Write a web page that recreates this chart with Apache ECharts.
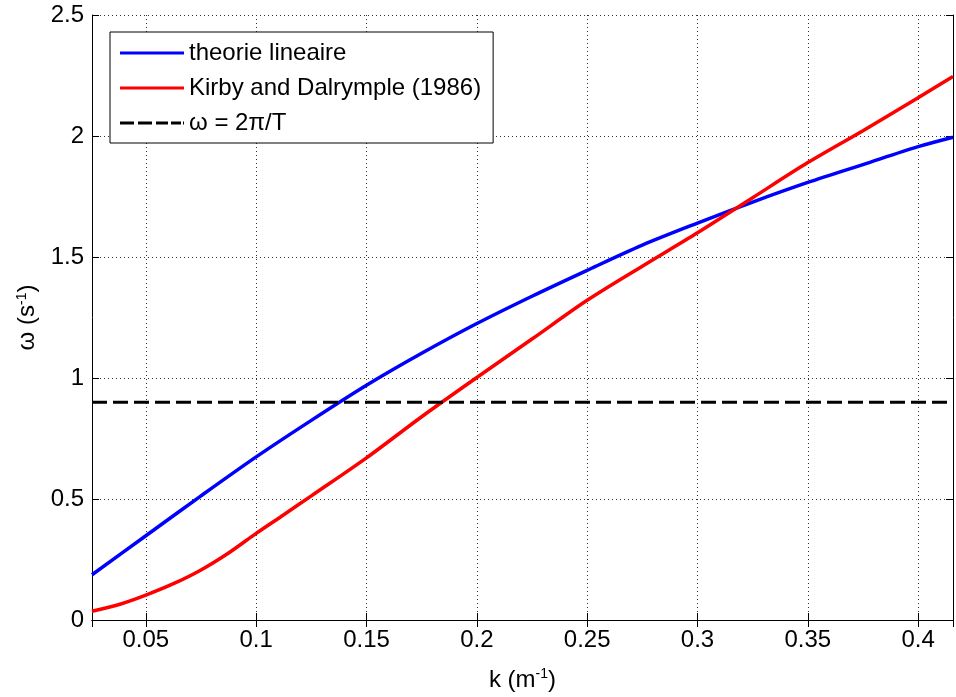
<!DOCTYPE html>
<html>
<head>
<meta charset="utf-8">
<script src="https://cdn.jsdelivr.net/npm/echarts@6/dist/echarts.min.js"></script>
<style>
html,body{margin:0;padding:0;background:#fff;overflow:hidden;}
#chart{width:956px;height:697px;}
</style>
</head>
<body>
<div id="chart"></div>
<script>
// Data
var kLinear = [0.0256, 0.05, 0.075, 0.1, 0.125, 0.15, 0.175, 0.2, 0.225, 0.25, 0.275, 0.3, 0.325, 0.35, 0.375, 0.4, 0.4158];
var omegaLinear = [0.187, 0.348, 0.513, 0.674, 0.825, 0.970, 1.102, 1.225, 1.338, 1.445, 1.549, 1.640, 1.727, 1.808, 1.882, 1.956, 1.995];
var kKirby = [0.0256, 0.0375, 0.05, 0.0625, 0.075, 0.0875, 0.1, 0.1125, 0.125, 0.15, 0.175, 0.2, 0.225, 0.25, 0.275, 0.3, 0.325, 0.35, 0.375, 0.4, 0.4158];
var omegaKirby = [0.036, 0.063, 0.103, 0.150, 0.207, 0.277, 0.358, 0.435, 0.513, 0.670, 0.840, 1.002, 1.161, 1.321, 1.462, 1.600, 1.745, 1.890, 2.022, 2.158, 2.246];
var kDash = [0.0256, 0.4158];
var omegaDash = [0.9, 0.9];
var xMin = 0.0256, xMax = 0.4158, xStep = 0.05;
var yMin = 0, yMax = 2.5, yStep = 0.5;
var seriesNames = ['theorie lineaire', 'Kirby and Dalrymple (1986)', 'ω = 2π/T'];
var xAxisName = 'k (m{sup|-1})';
var yAxisName = 'ω (s{sup|-1})';

function pairs(xs, ys) { return xs.map(function (x, i) { return [x, ys[i]]; }); }

var FONT = 'Liberation Sans';
var FS = 24;
var solidIcon = 'path://M0,0h64v3h-64z';
var dashIcon = 'path://M4,0h14v3h-14z M22,0h14v3h-14z M40,0h12v3h-12z M55,0h10v3h-10z M67,0h1v3h-1z';
var chart = echarts.init(document.getElementById('chart'), null, {renderer: 'canvas'});
var supStyle = {fontSize: 14, fontFamily: FONT, color: '#000', padding: [0, 0, 12, 0]};
var option = {
  backgroundColor: '#fff',
  animation: false,
  grid: {left: 92, right: 0, top: 15, bottom: 74, containLabel: false},
  legend: {
    orient: 'vertical',
    left: 110, top: 32,
    padding: [9, 12, 8, 10],
    itemGap: 11,
    itemWidth: 64,
    itemHeight: 20,
    borderColor: '#000', borderWidth: 1,
    backgroundColor: '#fff',
    textStyle: {fontFamily: FONT, fontSize: FS, color: '#000', lineHeight: 22},
    data: [
      {name: seriesNames[0], icon: solidIcon},
      {name: seriesNames[1], icon: solidIcon},
      {name: seriesNames[2], icon: dashIcon}
    ]
  },
  xAxis: [{
    type: 'value', min: xMin, max: xMax, splitNumber: 8,
    name: xAxisName, nameLocation: 'middle', nameGap: 47,
    nameTextStyle: {fontFamily: FONT, fontSize: FS, color: '#000', rich: {sup: supStyle}},
    axisLine: {show: true, lineStyle: {color: '#000', width: 1}},
    axisTick: {show: true, inside: true, length: 7, lineStyle: {color: '#000'}},
    axisLabel: {
      fontFamily: FONT, fontSize: FS, color: '#000', margin: 8,
      formatter: function (v) {
        var r = v / xStep;
        if (Math.abs(r - Math.round(r)) > 1e-6) return '';
        return String(+v.toFixed(2));
      }
    },
    splitLine: {show: true, lineStyle: {color: '#333', width: 1, type: [1, 3]}}
  }, {
    type: 'value', position: 'top', min: xMin, max: xMax, splitNumber: 8,
    axisLine: {show: true, lineStyle: {color: '#000', width: 1}},
    axisTick: {show: true, inside: true, length: 7, lineStyle: {color: '#000'}},
    axisLabel: {show: false}, splitLine: {show: false}
  }],
  yAxis: [{
    type: 'value', min: yMin, max: yMax, interval: yStep,
    name: yAxisName, nameLocation: 'middle', nameGap: 50, nameRotate: 90,
    nameTextStyle: {fontFamily: FONT, fontSize: FS, color: '#000', rich: {sup: supStyle}},
    axisLine: {show: true, lineStyle: {color: '#000', width: 1}},
    axisTick: {show: true, inside: true, length: 7, lineStyle: {color: '#000'}},
    axisLabel: {fontFamily: FONT, fontSize: FS, color: '#000', margin: 8},
    splitLine: {show: true, lineStyle: {color: '#333', width: 1, type: [1, 3]}}
  }, {
    type: 'value', position: 'right', min: yMin, max: yMax, interval: yStep,
    axisLine: {show: true, lineStyle: {color: '#000', width: 1}},
    axisTick: {show: true, inside: true, length: 7, lineStyle: {color: '#000'}},
    axisLabel: {show: false}, splitLine: {show: false}
  }],
  series: [{
    name: seriesNames[0], type: 'line', symbol: 'none', smooth: 0.3,
    data: pairs(kLinear, omegaLinear),
    lineStyle: {color: '#0000ff', width: 3.5}, itemStyle: {color: '#0000ff'}
  }, {
    name: seriesNames[1], type: 'line', symbol: 'none', smooth: 0.3,
    data: pairs(kKirby, omegaKirby),
    lineStyle: {color: '#ff0000', width: 3.5}, itemStyle: {color: '#ff0000'}
  }, {
    name: seriesNames[2], type: 'line', symbol: 'none',
    data: pairs(kDash, omegaDash),
    lineStyle: {color: '#000', width: 3, type: [15, 6]}, itemStyle: {color: '#000'}
  }]
};
chart.setOption(option);
</script>
</body>
</html>
